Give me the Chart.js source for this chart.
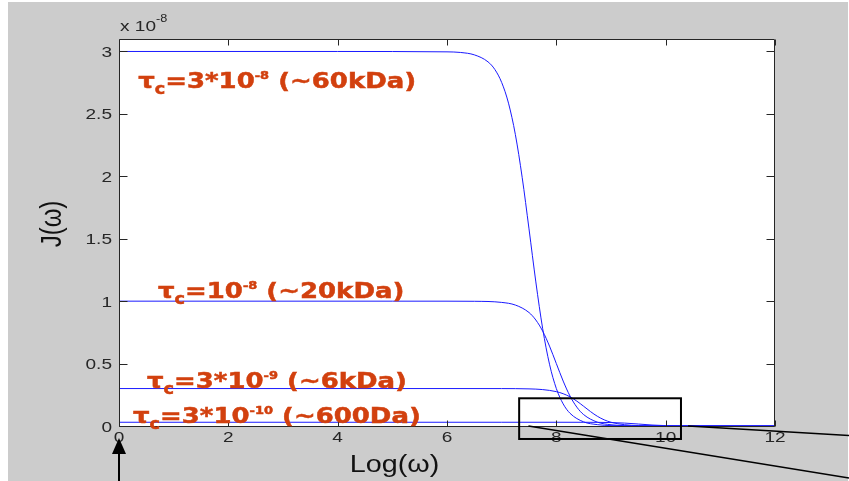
<!DOCTYPE html>
<html>
<head>
<meta charset="utf-8">
<title>Spectral density J(ω)</title>
<script src="https://cdn.jsdelivr.net/npm/chart.js@4/dist/chart.umd.min.js"></script>
<style>
  html, body { margin: 0; padding: 0; background: #ffffff; overflow: hidden; }
  #wrap { width: 849px; height: 481px; }
</style>
</head>
<body>
<div id="wrap"><canvas id="chart" width="849" height="481"></canvas></div>
<script>
// Spectral density J(ω) (units of 1e-8 s) against log10(ω) for four correlation times.

// tau_c = 3e-8 s (~60 kDa)
const logOmega60k = [0, 4, 6, 6.25, 6.5, 6.75, 6.875, 7, 7.125, 7.25, 7.375, 7.5, 7.625, 7.75, 7.875, 8, 8.125, 8.25, 8.5, 8.75, 9, 10, 12];
const j60k        = [3.0, 3.0, 2.997, 2.992, 2.973, 2.917, 2.856, 2.752, 2.586, 2.336, 1.992, 1.579, 1.154, 0.780, 0.495, 0.300, 0.177, 0.102, 0.033, 0.011, 0.003, 0.0, 0.0];

// tau_c = 1e-8 s (~20 kDa)
const logOmega20k = [0, 5, 6, 6.5, 7, 7.25, 7.5, 7.625, 7.75, 7.875, 8, 8.125, 8.25, 8.375, 8.5, 8.75, 9, 9.5, 10, 12];
const j20k        = [1.0, 1.0, 0.9999, 0.999, 0.990, 0.969, 0.909, 0.849, 0.760, 0.640, 0.500, 0.360, 0.240, 0.151, 0.091, 0.031, 0.010, 0.001, 0.0001, 0.0];

// tau_c = 3e-9 s (~6 kDa)
const logOmega6k = [0, 6, 7, 7.5, 7.75, 8, 8.125, 8.25, 8.375, 8.5, 8.625, 8.75, 8.875, 9, 9.25, 9.5, 10, 12];
const j6k        = [0.3, 0.3, 0.2997, 0.2973, 0.2917, 0.2752, 0.2586, 0.2336, 0.1992, 0.1579, 0.1154, 0.0780, 0.0495, 0.030, 0.0102, 0.0033, 0.0003, 0.0];

// tau_c = 3e-10 s (~600 Da)
const logOmega600 = [0, 7, 8, 8.5, 9, 9.25, 9.5, 9.75, 10, 10.25, 10.5, 11, 12];
const j600        = [0.03, 0.03, 0.02997, 0.02973, 0.02752, 0.02336, 0.01579, 0.0078, 0.003, 0.001, 0.00033, 0.00003, 0.0];

// Axis ticks
const xTickValues = [0, 2, 4, 6, 8, 10, 12];
const yTickValues = [0, 0.5, 1, 1.5, 2, 2.5, 3];

// Curve labels: [prefix after tau_c, exponent, suffix]
const tauLabels = [
  ['=3*10', '-8', ' (~60kDa)'],
  ['=10', '-8', ' (~20kDa)'],
  ['=3*10', '-9', ' (~6kDa)'],
  ['=3*10', '-10', ' (~600Da)']
];

const toPoints = (xs, ys) => xs.map((x, i) => ({ x: x, y: ys[i] }));

const LINE_BLUE = '#1a1aff';
const LABEL_RED = '#d2400e';
const AXIS_INK = '#262626';
const SX = 1.27;      // horizontal stretch of axis text
const SX_LABEL = 1.18; // horizontal stretch of curve labels

function stretchedRuns(ctx, runs, x, y, sx, align, strokeWidth) {
  let w = 0;
  runs.forEach(r => { ctx.font = r.font; r.w = ctx.measureText(r.text).width; w += r.w; });
  ctx.save();
  ctx.translate(x, y);
  ctx.scale(sx, 1);
  ctx.textAlign = 'left';
  let cx = align === 'center' ? -w / 2 : (align === 'right' ? -w : 0);
  runs.forEach(r => {
    ctx.font = r.font;
    ctx.fillText(r.text, cx, r.dy || 0);
    if (strokeWidth) {
      ctx.lineWidth = strokeWidth;
      ctx.strokeText(r.text, cx, r.dy || 0);
    }
    cx += r.w;
  });
  ctx.restore();
  return w * sx;
}

const frame = {
  id: 'frame',
  beforeDraw(chart) {
    const ctx = chart.ctx, a = chart.chartArea;
    ctx.save();
    ctx.fillStyle = '#ffffff';
    ctx.fillRect(0, 0, chart.width, chart.height);
    ctx.fillStyle = '#cccccc';
    ctx.fillRect(8, 2, 840, chart.height - 2);
    ctx.fillStyle = '#ffffff';
    ctx.fillRect(a.left, a.top, a.right - a.left, a.bottom - a.top);
    ctx.restore();
  },
  afterDatasetsDraw(chart) {
    const ctx = chart.ctx, a = chart.chartArea;
    const xs = chart.scales.x, ys = chart.scales.y;
    ctx.save();

    // box and inward ticks
    ctx.strokeStyle = AXIS_INK;
    ctx.lineWidth = 1;
    const L = Math.round(a.left) + 0.5, R = Math.round(a.right) - 0.5;
    const T = Math.round(a.top) + 0.5, B = Math.round(a.bottom) + 0.5;
    ctx.beginPath();
    ctx.rect(L, T, R - L, B - T);
    xTickValues.forEach(v => {
      const px = Math.round(xs.getPixelForValue(v)) + 0.5;
      ctx.moveTo(px, B); ctx.lineTo(px, B - 6);
      ctx.moveTo(px, T); ctx.lineTo(px, T + 6);
    });
    yTickValues.forEach(v => {
      const py = Math.round(ys.getPixelForValue(v)) + 0.5;
      ctx.moveTo(L, py); ctx.lineTo(L + 8, py);
      ctx.moveTo(R, py); ctx.lineTo(R - 8, py);
    });
    ctx.stroke();

    // tick labels
    ctx.fillStyle = AXIS_INK;
    ctx.textBaseline = 'alphabetic';
    const tickFont = '15px "Liberation Sans", Arial, sans-serif';
    xTickValues.forEach(v => {
      stretchedRuns(ctx, [{ text: String(v), font: tickFont }], xs.getPixelForValue(v), a.bottom + 16, SX, 'center');
    });
    yTickValues.forEach(v => {
      stretchedRuns(ctx, [{ text: String(v), font: tickFont }], a.left - 7, ys.getPixelForValue(v) + 5.5, SX, 'right');
    });

    // exponent of the y axis
    stretchedRuns(ctx, [
      { text: 'x 10', font: '15px "Liberation Sans", Arial, sans-serif' },
      { text: '-8', font: '10px "Liberation Sans", Arial, sans-serif', dy: -9 }
    ], a.left + 1, 31, SX, 'left');

    // axis titles
    ctx.fillStyle = '#111111';
    stretchedRuns(ctx, [{ text: 'Log(ω)', font: '23px "Liberation Sans", Arial, sans-serif' }], 394.5, 472, 1.25, 'center');
    ctx.save();
    ctx.translate(61, 224);
    ctx.rotate(-Math.PI / 2);
    ctx.scale(1, 1.2);
    ctx.font = '24px "Liberation Sans", Arial, sans-serif';
    ctx.textAlign = 'center';
    ctx.fillText('J(ω)', 0, 0);
    ctx.restore();

    // curve labels, anchored in data coordinates
    const anchors = [[0.35, 2.71], [0.713, 1.024], [0.512, 0.304], [0.256, 0.024]];
    ctx.fillStyle = LABEL_RED;
    ctx.strokeStyle = LABEL_RED;
    const big = 'bold 22px "DejaVu Sans", sans-serif';
    tauLabels.forEach((lab, i) => {
      const px = xs.getPixelForValue(anchors[i][0]);
      const py = ys.getPixelForValue(anchors[i][1]);
      stretchedRuns(ctx, [
        { text: 'τ', font: big },
        { text: 'c', font: 'bold 15px "DejaVu Sans", sans-serif', dy: 6 },
        { text: lab[0], font: big },
        { text: lab[1], font: 'bold 11px "DejaVu Sans", sans-serif', dy: -9 },
        { text: lab[2], font: big }
      ], px, py, SX_LABEL, 'left', 0.5);
    });
    ctx.restore();
  },
  afterDraw(chart) {
    const ctx = chart.ctx;
    const xs = chart.scales.x, ys = chart.scales.y;
    ctx.save();
    ctx.strokeStyle = '#000000';
    ctx.fillStyle = '#000000';

    // zoom box over the high-frequency tail
    const x0 = xs.getPixelForValue(7.32), x1 = xs.getPixelForValue(10.28);
    const y0 = ys.getPixelForValue(0.222), y1 = ys.getPixelForValue(-0.104);
    ctx.lineWidth = 2;
    ctx.strokeRect(x0, y0, x1 - x0, y1 - y0);

    // leader lines towards the enlarged view
    ctx.lineWidth = 1.4;
    ctx.beginPath();
    ctx.moveTo(xs.getPixelForValue(7.49), ys.getPixelForValue(0));
    ctx.lineTo(chart.width, 478);
    ctx.moveTo(xs.getPixelForValue(10.41), ys.getPixelForValue(0));
    ctx.lineTo(chart.width, 435.5);
    ctx.stroke();

    // arrow marking log(ω) = 0
    const ax = xs.getPixelForValue(0);
    ctx.lineWidth = 2;
    ctx.beginPath();
    ctx.moveTo(ax, chart.height);
    ctx.lineTo(ax, 450);
    ctx.stroke();
    ctx.beginPath();
    ctx.moveTo(ax, 438);
    ctx.lineTo(ax - 7, 454);
    ctx.lineTo(ax + 7, 454);
    ctx.closePath();
    ctx.fill();
    ctx.restore();
  }
};

const lineStyle = {
  showLine: true,
  borderColor: LINE_BLUE,
  backgroundColor: LINE_BLUE,
  borderWidth: 1,
  pointRadius: 0,
  fill: false,
  cubicInterpolationMode: 'monotone'
};

new Chart(document.getElementById('chart'), {
  type: 'scatter',
  data: {
    datasets: [
      Object.assign({ label: 'τc=3*10^-8', data: toPoints(logOmega60k, j60k) }, lineStyle),
      Object.assign({ label: 'τc=10^-8', data: toPoints(logOmega20k, j20k) }, lineStyle),
      Object.assign({ label: 'τc=3*10^-9', data: toPoints(logOmega6k, j6k) }, lineStyle),
      Object.assign({ label: 'τc=3*10^-10', data: toPoints(logOmega600, j600) }, lineStyle)
    ]
  },
  options: {
    responsive: false,
    devicePixelRatio: 1,
    animation: false,
    layout: { padding: { top: 39, right: 74, left: 0, bottom: 0 } },
    plugins: { legend: { display: false }, tooltip: { enabled: false } },
    scales: {
      x: {
        type: 'linear', min: 0, max: 12,
        grid: { display: false, drawTicks: false },
        border: { display: false },
        ticks: { display: false },
        afterBuildTicks: s => { s.ticks = xTickValues.map(v => ({ value: v })); },
        afterFit: s => { s.height = 55; }
      },
      y: {
        type: 'linear', min: 0, max: 3.1,
        grid: { display: false, drawTicks: false },
        border: { display: false },
        ticks: { display: false },
        afterBuildTicks: s => { s.ticks = yTickValues.map(v => ({ value: v })); },
        afterFit: s => { s.width = 119; }
      }
    }
  },
  plugins: [frame]
});
</script>
</body>
</html>
